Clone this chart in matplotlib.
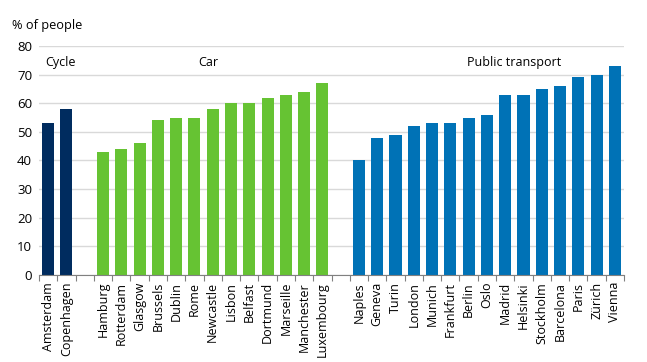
import numpy as np
import matplotlib.pyplot as plt

plt.rcParams['font.family'] = ['Open Sans', 'DejaVu Sans']

cycle_cities = ['Amsterdam', 'Copenhagen']
cycle_values = [53, 58]
car_cities = ['Hamburg', 'Rotterdam', 'Glasgow', 'Brussels', 'Dublin', 'Rome', 'Newcastle',
              'Lisbon', 'Belfast', 'Dortmund', 'Marseille', 'Manchester', 'Luxembourg']
car_values = [43, 44, 46, 54, 55, 55, 58, 60, 60, 62, 63, 64, 67]
pt_cities = ['Naples', 'Geneva', 'Turin', 'London', 'Munich', 'Frankfurt', 'Berlin', 'Oslo',
             'Madrid', 'Helsinki', 'Stockholm', 'Barcelona', 'Paris', 'Zürich', 'Vienna']
pt_values = [40, 48, 49, 52, 53, 53, 55, 56, 63, 63, 65, 66, 69, 70, 73]

groups = [('Cycle', cycle_cities, cycle_values, '#002c5f'),
          ('Car', car_cities, car_values, '#66c333'),
          ('Public transport', pt_cities, pt_values, '#0072b6')]

fig = plt.figure(figsize=(6.47, 3.62), dpi=100)
ax = fig.add_axes([0.0603, 0.2403, 0.9042, 0.6327])

labels = []
pos = 0
starts = []
for name, cities, values, color in groups:
    x = np.arange(pos, pos + len(cities))
    ax.bar(x, values, width=0.66, color=color, zorder=3)
    starts.append(pos)
    labels += cities + ['']
    pos += len(cities) + 1
labels = labels[:-1]
n = len(labels)

# group titles
ax.text(starts[0] - 0.15, 74.4, 'Cycle', fontsize=9, ha='left', va='center')
ax.text(8.75, 74.4, 'Car', fontsize=9, ha='center', va='center')
ax.text(25.5, 74.4, 'Public transport', fontsize=9, ha='center', va='center')

ax.set_xlim(-0.5, n - 0.5)
ax.set_ylim(0, 80)
ax.set_yticks(range(0, 81, 10))
ax.set_xticks(range(n))
ax.set_xticklabels(labels, rotation=90, fontsize=9)
ax.set_xticks(np.arange(-0.5, n, 1), minor=True)
ax.tick_params(axis='x', which='major', length=0, pad=5)
ax.tick_params(axis='x', which='minor', length=4, color='#808080', width=0.8)
ax.tick_params(axis='y', length=0, labelsize=9.5, pad=5)
ax.grid(axis='y', color='#d9d9d9', linewidth=1, zorder=0)

for s in ['left', 'right', 'top']:
    ax.spines[s].set_visible(False)
ax.spines['bottom'].set_color('#808080')
ax.spines['bottom'].set_linewidth(0.8)
ax.spines['bottom'].set_zorder(4)

fig.text(12 / 647, 1 - 25 / 362, '% of people', fontsize=9.2, ha='left', va='center')

fig.savefig('out.png', dpi=100)
